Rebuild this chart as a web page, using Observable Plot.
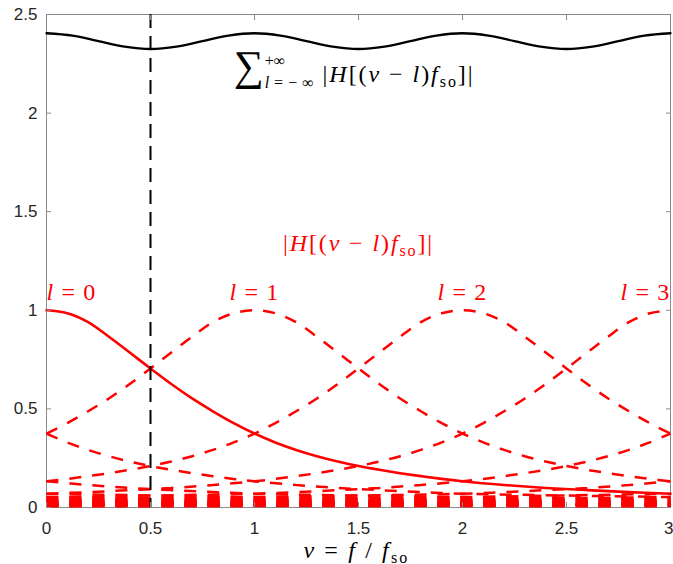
<!DOCTYPE html>
<html>
<head>
<meta charset="utf-8">
<script src="https://cdn.jsdelivr.net/npm/d3@7"></script>
<script src="https://cdn.jsdelivr.net/npm/@observablehq/plot@0.6"></script>
<style>
  html, body { margin: 0; padding: 0; background: #fff; }
</style>
</head>
<body>
<div id="chart"></div>
<script>
// Tick positions
const xTicks = [0, 0.5, 1, 1.5, 2, 2.5];
const xTickLast = [3];
const yTicks = [0, 0.5, 1, 1.5, 2, 2.5];

const hOffset = [0, 0.1, 0.2, 0.3, 0.4, 0.5, 0.6, 0.7, 0.8, 0.9, 1.0,
                 1.1, 1.2, 1.3, 1.4, 1.5, 1.6, 1.7, 1.8, 1.9, 2.0,
                 2.2, 2.4, 2.6, 2.8, 3.0, 4, 5, 6, 7, 8, 9, 10, 11, 12, 13, 14, 15];
const hValue  = [1.0, 0.985, 0.94, 0.866, 0.786, 0.705, 0.626, 0.553, 0.488, 0.428, 0.375,
                 0.33, 0.292, 0.26, 0.233, 0.21, 0.191, 0.174, 0.159, 0.145, 0.133,
                 0.114, 0.099, 0.088, 0.078, 0.07, 0.053, 0.042, 0.034, 0.028, 0.023, 0.019, 0.016, 0.013, 0.011, 0.009, 0.007, 0.006];

// shift orders l drawn
const orders = [-12, -11, -10, -9, -8, -7, -6, -5, -4, -3, -2, -1, 0, 1, 2, 3, 4, 5, 6, 7, 8, 9, 10, 11, 12, 13, 14, 15];

// sum curve
const sumNu = [0, 0.125, 0.25, 0.375, 0.5, 0.625, 0.75, 0.875,
               1, 1.125, 1.25, 1.375, 1.5, 1.625, 1.75, 1.875,
               2, 2.125, 2.25, 2.375, 2.5, 2.625, 2.75, 2.875, 3];
const sumValue = [2.405, 2.393, 2.365, 2.337, 2.325, 2.337, 2.365, 2.393,
                  2.405, 2.393, 2.365, 2.337, 2.325, 2.337, 2.365, 2.393,
                  2.405, 2.393, 2.365, 2.337, 2.325, 2.337, 2.365, 2.393, 2.405];

const markerNu = [0.5];

const lLabels = ["l = 0", "l = 1", "l = 2", "l = 3"];
const hLabel = "|H[(ν − l)fso]|";
const sumLabel = "∑l=−∞+∞ |H[(ν − l)fso]|";
const xLabel = "ν = f / fso";

// build table of shifted curves
const rows = [];
for (const l of orders) {
  const pts = [];
  hOffset.forEach((d, i) => {
    for (const s of (d === 0 ? [1] : [-1, 1])) {
      const x = l + s * d;
      if (x >= -1e-9 && x <= 3 + 1e-9) pts.push({l, x: Math.min(3, Math.max(0, x)), y: hValue[i]});
    }
  });
  pts.sort((a, b) => a.x - b.x);
  rows.push(...pts);
}
const sumRows = sumNu.map((x, i) => ({x, y: sumValue[i]}));

const RED = "#ff0000";
const serif = "'Liberation Serif', 'DejaVu Serif', serif";
const AX = "#8a8a8a";

const plot = Plot.plot({
  width: 673,
  height: 564,
  marginLeft: 46,
  marginRight: 3,
  marginTop: 14,
  marginBottom: 57,
  style: {fontFamily: "'Liberation Sans', Arial, sans-serif", fontSize: "16px", background: "#fff"},
  x: {domain: [0, 3]},
  y: {domain: [0, 2.5]},
  marks: [
    Plot.frame({stroke: AX, strokeWidth: 1}),
    Plot.line(rows.filter(r => r.l !== 0), {x: "x", y: "y", z: "l", stroke: RED, strokeWidth: 2.5,
      strokeDasharray: "12,11", strokeLinecap: "butt", strokeLinejoin: "miter", curve: "catmull-rom"}),
    Plot.line(rows.filter(r => r.l === 0), {x: "x", y: "y", stroke: RED, strokeWidth: 2.6, curve: "catmull-rom"}),
    Plot.line(sumRows, {x: "x", y: "y", stroke: "black", strokeWidth: 2.3, curve: "catmull-rom"}),
    Plot.ruleX(markerNu, {stroke: "black", strokeWidth: 2, strokeDasharray: "14,8", strokeLinecap: "butt"}),
    Plot.axisX(xTicks, {anchor: "bottom", tickSize: -5, tickPadding: 19, stroke: AX, fill: "#262626",
      tickFormat: d => String(d), label: null, fontSize: 17}),
    Plot.axisX(xTickLast, {anchor: "bottom", tickSize: -5, tickPadding: 19, stroke: AX, fill: "#262626",
      tickFormat: d => String(d), label: null, fontSize: 17, textAnchor: "end", dx: 3}),
    Plot.axisX(xTicks.concat(xTickLast), {anchor: "top", tickSize: -5, stroke: AX, tickFormat: () => "", label: null}),
    Plot.axisY(yTicks, {anchor: "left", tickSize: -5, tickPadding: 14, stroke: AX, fill: "#262626",
      tickFormat: d => String(d), label: null, fontSize: 17}),
    Plot.axisY(yTicks, {anchor: "right", tickSize: -5, stroke: AX, tickFormat: () => "", label: null}),
    Plot.text(lLabels.slice(0, 1), {x: () => 0, y: () => 1.05, text: d => d, textAnchor: "start", lineAnchor: "bottom", fill: RED, fontFamily: serif, fontSize: 24}),
    Plot.text(lLabels.slice(1, 3), {x: (d, i) => i + 1, y: () => 1.05, text: d => d, textAnchor: "middle", lineAnchor: "bottom", fill: RED, fontFamily: serif, fontSize: 24}),
    Plot.text(lLabels.slice(3), {x: () => 3, y: () => 1.05, text: d => d, textAnchor: "end", lineAnchor: "bottom", fill: RED, fontFamily: serif, fontSize: 24}),
    Plot.text([hLabel], {x: () => 1.5, y: () => 1.3, text: d => d, textAnchor: "middle", lineAnchor: "bottom", fill: RED, fontFamily: serif, fontSize: 24}),
    Plot.text([sumLabel], {x: () => 0.9, y: () => 2.16, text: d => d, textAnchor: "start", lineAnchor: "bottom", fill: "black", fontFamily: serif, fontSize: 24}),
    Plot.text([xLabel], {x: () => 1.49, frameAnchor: "bottom", dy: 50, text: d => d, textAnchor: "middle", lineAnchor: "bottom", fill: "black", fontFamily: serif, fontSize: 24})
  ]
});

document.getElementById("chart").appendChild(plot);

// typeset math-like labels with tspans
function typeset(el, segs, keep) {
  const t = d3.select(el);
  if (!keep) t.text(null);
  return segs.map(s => {
    const ts = t.append("tspan").text(s.t);
    if (s.i) ts.attr("font-style", "italic");
    if (s.fs) ts.attr("font-size", s.fs);
    if (s.dy) ts.attr("dy", s.dy);
    if (s.dx) ts.attr("dx", s.dx);
    return ts.node();
  });
}
// spread a group of tspans so that together they span `target` pixels
function spread(nodes, target) {
  const w = d3.sum(nodes, n => n.getComputedTextLength());
  const n = d3.sum(nodes, n => n.textContent.length);
  const ls = (target - w) / n;
  nodes.forEach(nd => nd.setAttribute("letter-spacing", ls.toFixed(2)));
  return ls;
}
const hSegs = () => [
  {t: "|"}, {t: "H", i: true}, {t: "[("}, {t: "ν", i: true}, {t: " − "}, {t: "l", i: true}, {t: ")"},
  {t: "f", i: true}, {t: "so", fs: 16, dy: 5}, {t: "]|", dy: -5}
];
d3.select(plot).selectAll("text").each(function () {
  const s = this.textContent;
  let m;
  if ((m = s.match(/^l = (\d)$/))) {
    const nodes = typeset(this, [{t: "l", i: true}, {t: " = " + m[1]}]);
    spread(nodes, 50);
  } else if (s === hLabel) {
    const nodes = typeset(this, hSegs());
    spread(nodes, 151);
  } else if (s === sumLabel) {
    const [sig, subL, subR, sup, gap] = typeset(this, [
      {t: "∑", fs: 42, dy: -2},
      {t: "l", i: true, fs: 16, dy: 8, dx: 1}, {t: "=−∞", fs: 16},
      {t: "+∞", fs: 16, dy: -22},
      {t: " ", dy: 16}
    ]);
    spread([subL, subR], 54);
    const subW = subL.getComputedTextLength() + subR.getComputedTextLength();
    sup.setAttribute("dx", (-subW).toFixed(1));
    const supW = sup.getComputedTextLength();
    gap.setAttribute("dx", (subW - supW - 2).toFixed(1));
    const main = typeset(this, hSegs(), true);
    spread(main, 152);
  } else if (s === xLabel) {
    const nodes = typeset(this, [{t: "ν", i: true}, {t: " = "}, {t: "f", i: true}, {t: " / "}, {t: "f", i: true}, {t: "so", fs: 16, dy: 5}]);
    spread(nodes, 106);
  }
});
</script>
</body>
</html>
